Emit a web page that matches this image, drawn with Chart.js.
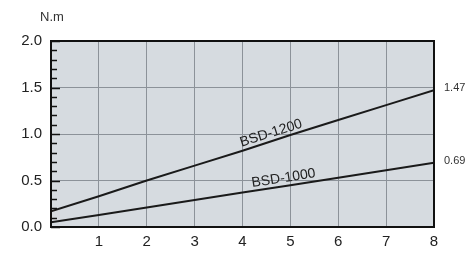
<!DOCTYPE html>
<html>
<head>
<meta charset="utf-8">
<script src="https://cdn.jsdelivr.net/npm/chart.js@4.4.0/dist/chart.umd.min.js"></script>
<style>
html,body{margin:0;padding:0;background:#fff;}
#wrap{width:474px;height:254px;position:relative;}
</style>
</head>
<body>
<div id="wrap"><canvas id="torqueChart"></canvas></div>
<script>
/* -------- DATA -------- */

const speedSteps = [0,1,2,3,4,5,6,7,8];
const bsd1200 = [0.17,0.33,0.50,0.66,0.82,0.99,1.15,1.31,1.47];
const bsd1000 = [0.05,0.13,0.21,0.29,0.37,0.45,0.53,0.61,0.69];
const seriesNames = ["BSD-1200","BSD-1000"];
const endLabels = ["1.47","0.69"];
const unitLabel = "N.m";

/* -------- PLUGIN: background, frame, minor ticks, labels -------- */

const decor = {
id:"decor",
beforeDraw(chart){
const {ctx,chartArea:a} = chart;
ctx.save();
ctx.fillStyle = "#d6dbe0";
ctx.fillRect(a.left,a.top,a.right-a.left,a.bottom-a.top);
ctx.restore();
},
afterDraw(chart){
const {ctx,chartArea:a,scales} = chart;
const y = scales.y, x = scales.x;
ctx.save();

// frame
ctx.strokeStyle = "#111";
ctx.lineWidth = 2;
ctx.strokeRect(a.left,a.top,a.right-a.left,a.bottom-a.top);

// minor ticks on left axis
ctx.lineWidth = 1.5;
for(let i=1;i<20;i++){
if(i%5===0) continue;
const py = Math.round(y.getPixelForValue(i/10))+0.5;
ctx.beginPath();
ctx.moveTo(a.left,py);
ctx.lineTo(a.left+6,py);
ctx.stroke();
}
for(let i=0;i<=20;i+=5){
const py = Math.round(y.getPixelForValue(i/10))+0.5;
ctx.beginPath();
ctx.moveTo(a.left,py);
ctx.lineTo(a.left+9,py);
ctx.stroke();
}

// unit label
ctx.fillStyle = "#333";
ctx.font = "13px 'Liberation Sans', Arial, sans-serif";
ctx.textAlign = "left";
ctx.textBaseline = "middle";
ctx.fillText(unitLabel,40,17);

// end values
ctx.font = "11px 'Liberation Sans', Arial, sans-serif";
const sets = [bsd1200,bsd1000];
sets.forEach((d,i)=>{
const last = d[d.length-1];
ctx.fillText(endLabels[i],a.right+10,y.getPixelForValue(last)-2);
});

// series names along the lines
ctx.font = "14px 'Liberation Sans', Arial, sans-serif";
ctx.fillStyle = "#222";
ctx.textAlign = "center";
ctx.textBaseline = "alphabetic";
const at = [4.62,4.87];
sets.forEach((d,i)=>{
const x0 = x.getPixelForValue(0), x1 = x.getPixelForValue(8);
const y0 = y.getPixelForValue(d[0]), y1 = y.getPixelForValue(d[8]);
const ang = Math.atan2(y1-y0,x1-x0);
const k = Math.floor(at[i]);
const v = d[k]+(d[k+1]-d[k])*(at[i]-k);
ctx.save();
ctx.translate(x.getPixelForValue(at[i]),y.getPixelForValue(v)-4);
ctx.rotate(ang);
ctx.fillText(seriesNames[i],0,0);
ctx.restore();
});

ctx.restore();
}
};

/* -------- CHART -------- */

const ctx = document.getElementById("torqueChart").getContext("2d");

new Chart(ctx,{
type:"line",
data:{
labels:speedSteps,
datasets:[
{
label:seriesNames[0],
data:speedSteps.map((s,i)=>({x:s,y:bsd1200[i]})),
borderColor:"#1a1a1a",
borderWidth:2,
pointRadius:0,
tension:0
},
{
label:seriesNames[1],
data:speedSteps.map((s,i)=>({x:s,y:bsd1000[i]})),
borderColor:"#1a1a1a",
borderWidth:2,
pointRadius:0,
tension:0
}
]
},
options:{
responsive:true,
maintainAspectRatio:false,
animation:false,
layout:{padding:{top:41,right:40,left:0,bottom:0}},
plugins:{legend:{display:false},tooltip:{enabled:false}},
scales:{
x:{
type:"linear",
min:0,
max:8,
border:{display:false},
grid:{color:"#8c9299",lineWidth:1,drawTicks:false},
afterFit(s){ s.height = 27; },
ticks:{
stepSize:1,
padding:6,
color:"#222",
font:{size:15,family:"'Liberation Sans', Arial, sans-serif"},
callback:v=> v===0 ? "" : v
}
},
y:{
min:0,
max:2,
border:{display:false},
grid:{color:"#8c9299",lineWidth:1,drawTicks:false},
afterFit(s){ s.width = 51; },
ticks:{
stepSize:0.5,
padding:9,
color:"#222",
font:{size:15,family:"'Liberation Sans', Arial, sans-serif"},
callback:v=> v.toFixed(1)
}
}
}
},
plugins:[decor]
});
</script>
</body>
</html>
